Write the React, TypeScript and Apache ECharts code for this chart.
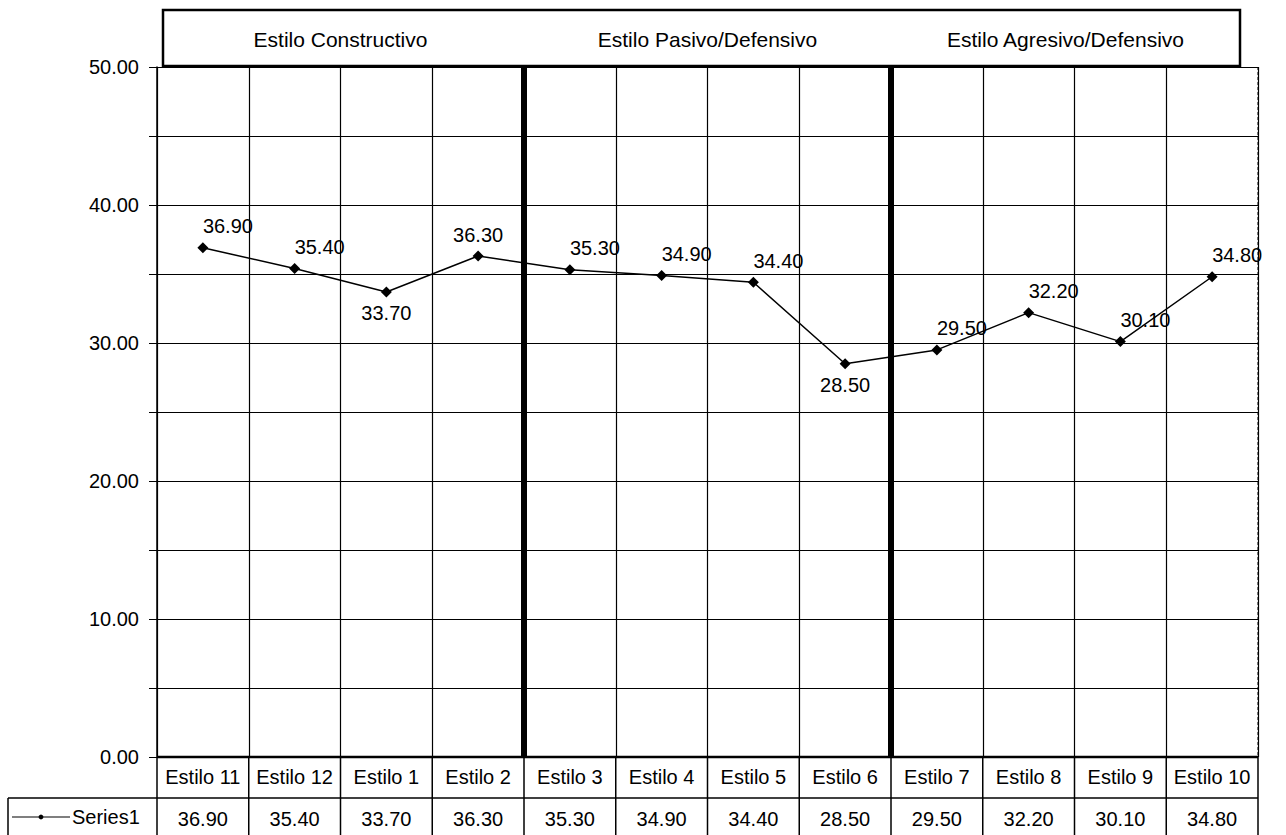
import React, { useEffect, useRef } from "react";
import * as echarts from "echarts";

// Style categories along the x axis, in display order
const categories = [
  "Estilo 11", "Estilo 12", "Estilo 1", "Estilo 2",
  "Estilo 3", "Estilo 4", "Estilo 5", "Estilo 6",
  "Estilo 7", "Estilo 8", "Estilo 9", "Estilo 10",
];
// Series1 scores per style
const values = [36.9, 35.4, 33.7, 36.3, 35.3, 34.9, 34.4, 28.5, 29.5, 32.2, 30.1, 34.8];
// Group headers and how many categories each group spans
const groupTitles = ["Estilo Constructivo", "Estilo Pasivo/Defensivo", "Estilo Agresivo/Defensivo"];
const groupSizes = [4, 4, 4];
const seriesName = "Series1";
// Value axis range
const yMin = 0;
const yMax = 50;
const yLabelStep = 10;
const yGridStep = 5;
// Points whose value label is placed differently from the default (above, starting at the marker)
const labelsBelow = [2, 7];
const labelsCentered = [3];

const W = 1286;
const H = 835;
const FONT = "Liberation Sans, Arial, sans-serif";

export default function App() {
  const ref = useRef<HTMLDivElement>(null);

  useEffect(() => {
    if (!ref.current) return;
    const chart = echarts.init(ref.current, null, { renderer: "svg" });

    const gridLeft = 157;
    const gridRight = 28;
    const gridTop = 67;
    const gridBottom = 78;
    const plotRight = W - gridRight;
    const plotBottom = H - gridBottom;
    const cell = (plotRight - gridLeft) / categories.length;
    const rowH = 41;
    const row2Top = plotBottom + rowH;
    const tableLeft = 8;

    const boundaries = Array.from({ length: categories.length + 1 }, (_, i) => gridLeft + i * cell);

    const graphics: any[] = [];
    const line = (x1: number, y1: number, x2: number, y2: number, w = 1, dash?: number[]) =>
      graphics.push({
        type: "line",
        silent: true,
        shape: { x1, y1, x2, y2 },
        style: { stroke: "#000", lineWidth: w, lineDash: dash },
        z: 1,
      });

    // data table grid
    line(gridLeft, plotBottom, plotRight, plotBottom, 2.5);
    line(tableLeft, row2Top, plotRight, row2Top, 1.5);
    boundaries.forEach((x) => line(x, plotBottom, x, H, 1.5));
    line(tableLeft, row2Top, tableLeft, H, 1.5);
    line(plotRight, gridTop, plotRight, plotBottom, 1, [3, 2]);

    // legend key inside the table
    const legY = row2Top + 19;
    line(tableLeft + 4, legY, tableLeft + 62, legY, 1.2);
    graphics.push({
      type: "circle",
      shape: { cx: tableLeft + 33, cy: legY, r: 2.4 },
      style: { fill: "#000" },
      z: 1,
    });
    graphics.push({
      type: "text",
      x: tableLeft + 64,
      y: legY,
      style: {
        text: seriesName,
        font: `20px ${FONT}`,
        fill: "#000",
        verticalAlign: "middle",
        align: "left",
      },
      z: 1,
    });

    // thick separators between style groups
    let acc = 0;
    groupSizes.slice(0, -1).forEach((n) => {
      acc += n;
      const x = boundaries[acc];
      graphics.push({
        type: "rect",
        shape: { x: x - 3, y: gridTop, width: 6, height: plotBottom - gridTop },
        style: { fill: "#000" },
        z: 1,
      });
    });

    // header box with group titles
    graphics.push({
      type: "rect",
      shape: { x: 163, y: 10, width: 1077, height: 56 },
      style: { fill: "#fff", stroke: "#000", lineWidth: 2.5 },
      z: 1,
    });
    let start = 0;
    groupTitles.forEach((t, i) => {
      const x0 = boundaries[start];
      const x1 = Math.min(boundaries[start + groupSizes[i]], 1240);
      start += groupSizes[i];
      graphics.push({
        type: "text",
        x: (x0 + x1) / 2,
        y: 39,
        style: {
          text: t,
          font: `21px ${FONT}`,
          fill: "#000",
          align: "center",
          verticalAlign: "middle",
        },
        z: 2,
      });
    });

    const seriesData = values.map((v, i) => {
      if (labelsBelow.includes(i))
        return { value: v, label: { position: "bottom" as const, align: "center" as const } };
      if (labelsCentered.includes(i))
        return { value: v, label: { align: "center" as const } };
      return { value: v };
    });

    chart.setOption({
      animation: false,
      backgroundColor: "#fff",
      grid: { left: gridLeft, right: gridRight, top: gridTop, bottom: gridBottom, containLabel: false },
      xAxis: [
        {
          type: "category",
          data: categories,
          boundaryGap: true,
          axisLine: { show: false },
          axisTick: { show: false },
          splitLine: { show: true, interval: 0, lineStyle: { color: "#000", width: 1.2 } },
          axisLabel: { interval: 0, margin: 10, fontFamily: FONT, fontSize: 20, color: "#000" },
        },
        {
          type: "category",
          position: "bottom",
          offset: rowH,
          data: values.map((v) => v.toFixed(2)),
          boundaryGap: true,
          axisLine: { show: false },
          axisTick: { show: false },
          splitLine: { show: false },
          axisLabel: { interval: 0, margin: 11, fontFamily: FONT, fontSize: 20, color: "#000" },
        },
      ],
      yAxis: {
        type: "value",
        min: yMin,
        max: yMax,
        interval: yGridStep,
        axisLine: { show: true, lineStyle: { color: "#000", width: 1.5 } },
        axisTick: { show: true, length: 8, lineStyle: { color: "#000" } },
        splitLine: { show: true, lineStyle: { color: "#000", width: 1.2 } },
        axisLabel: {
          margin: 18,
          fontFamily: FONT,
          fontSize: 20,
          color: "#000",
          formatter: (v: number) => (v % yLabelStep === 0 ? v.toFixed(2) : ""),
        },
      },
      series: [
        {
          name: seriesName,
          type: "line",
          data: seriesData,
          symbol: "diamond",
          symbolSize: 11,
          z: 10,
          lineStyle: { color: "#000", width: 1.5 },
          itemStyle: { color: "#000" },
          label: {
            show: true,
            position: "top",
            align: "left",
            distance: 6,
            fontFamily: FONT,
            fontSize: 20,
            color: "#000",
            formatter: (p: any) => Number(p.value).toFixed(2),
          },
        },
      ],
      graphic: graphics,
    });

    return () => chart.dispose();
  }, []);

  return (
    <div
      ref={ref}
      style={{ position: "fixed", left: 0, top: 0, width: W, height: H, background: "#fff" }}
    />
  );
}
